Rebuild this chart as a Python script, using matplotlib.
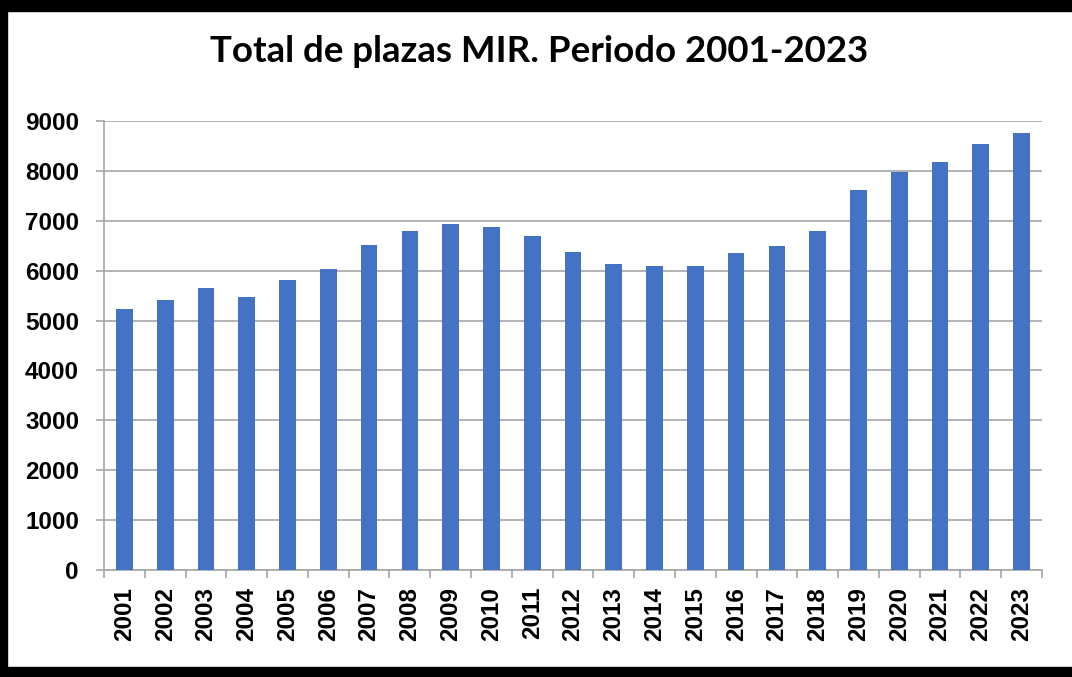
import numpy as np
from matplotlib import pyplot as plt
from matplotlib.patches import Rectangle

# data
years = [str(y) for y in range(2001, 2024)]
plazas = [5228, 5415, 5656, 5468, 5803, 6040, 6515, 6789, 6936, 6870, 6702, 6381,
          6140, 6100, 6100, 6348, 6502, 6789, 7609, 7987, 8180, 8548, 8769]

W, H = 1072, 677
PX = 0.72  # points per pixel at dpi 100
fig = plt.figure(figsize=(W / 100, H / 100), dpi=100)
fig.patch.set_facecolor("white")

# axes placed in pixel terms
x0, x1, y_top, y_bot = 104, 1042, 121, 570
ax = fig.add_axes([x0 / W, 1 - y_bot / H, (x1 - x0) / W, (y_bot - y_top) / H])

x = np.arange(len(years))
ax.bar(x, plazas, width=0.41, color="#4472C4", zorder=3)
ax.set_xlim(-0.5, len(years) - 0.5)
ax.set_ylim(0, 9000)
ax.set_yticks(np.arange(0, 9001, 1000))
ax.yaxis.grid(True, color="#a6a6a6", linewidth=1.2, zorder=0)

for s in ["top", "right"]:
    ax.spines[s].set_visible(False)
for s in ["left", "bottom"]:
    ax.spines[s].set_color("#a6a6a6")
    ax.spines[s].set_linewidth(1.2)

tick_font = dict(family="Liberation Sans", weight="bold", size=17.5)
ax.set_yticklabels([str(v) for v in range(0, 9001, 1000)], **tick_font)
ax.tick_params(axis="y", length=8 * PX, width=1.2, color="#a6a6a6", pad=17 * PX)

# category labels at centres, tick marks at boundaries
ax.set_xticks(x)
ax.set_xticklabels(years, rotation=90, **tick_font)
ax.tick_params(axis="x", length=0, pad=17 * PX)
ax.set_xticks(np.arange(-0.5, len(years)), minor=True)
ax.tick_params(axis="x", which="minor", length=8 * PX, width=1.2, color="#a6a6a6")

fig.text(539 / W, 1 - 51 / H, "Total de plazas MIR. Periodo 2001-2023",
         ha="center", va="center", family="Lato", weight="bold", size=26.4)

# black frame around the picture
for (rx, ry, rw, rh) in [(0, 0, W, 11), (0, 0, 7, H), (0, 667, W, 10)]:
    fig.patches.append(Rectangle((rx / W, 1 - (ry + rh) / H), rw / W, rh / H,
                                 transform=fig.transFigure, color="black", zorder=10))

fig.savefig("out.png", dpi=100)
